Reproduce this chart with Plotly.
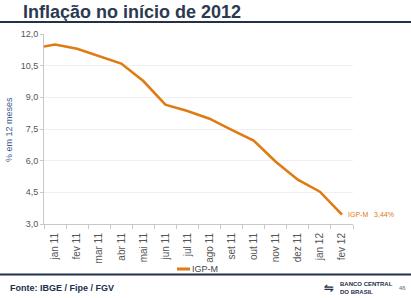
import plotly.graph_objects as go

W, H = 411, 298
ML, MR, MT, MB = 44, 58, 34, 74

months = ["dez 10", "jan 11", "fev 11", "mar 11", "abr 11", "mai 11", "jun 11", "jul 11",
          "ago 11", "set 11", "out 11", "nov 11", "dez 11", "jan 12", "fev 12"]
igpm = [11.32, 11.50, 11.30, 10.95, 10.60, 9.77, 8.65, 8.35, 7.99, 7.46, 6.95, 5.95, 5.10, 4.53, 3.44]
yticks = [3.0, 4.5, 6.0, 7.5, 9.0, 10.5, 12.0]

ORANGE = "#E07A12"
NAVY = "#22304a"
FONT = "Liberation Sans"

pw = W - ML - MR
ph = H - MT - MB


def px(x):
    return (x - ML) / pw


def py(y):
    return (H - MB - y) / ph


fig = go.Figure()
fig.add_trace(go.Scatter(
    x=months, y=igpm, mode="lines",
    line=dict(color=ORANGE, width=2.6),
    showlegend=False, cliponaxis=True,
))

fig.add_annotation(
    x=months[-1], y=igpm[-1], xref="x", yref="y",
    text="IGP-M   3,44%", showarrow=False, xanchor="left", yanchor="middle",
    xshift=4, font=dict(family=FONT, size=7, color=ORANGE),
)

# title
fig.add_annotation(
    x=px(21), y=py(12), xref="paper", yref="paper", text="<b>Inflação no início de 2012</b>",
    showarrow=False, xanchor="left", yanchor="middle",
    font=dict(family=FONT, size=18, color="#2b3a50"),
)
# y axis title
fig.add_annotation(
    x=px(9), y=py(130), xref="paper", yref="paper", text="% em 12 meses",
    showarrow=False, textangle=-90, xanchor="center", yanchor="middle",
    font=dict(family=FONT, size=9, color="#3d5b8c"),
)
# legend (manual)
fig.add_shape(type="line", xref="paper", yref="paper",
              x0=px(177), x1=px(190), y0=py(269), y1=py(269),
              line=dict(color=ORANGE, width=3))
fig.add_annotation(
    x=px(190), y=py(269), xref="paper", yref="paper", text="IGP-M",
    showarrow=False, xanchor="left", yanchor="middle",
    font=dict(family=FONT, size=9, color="#444444"),
)
# rules
fig.add_shape(type="line", xref="paper", yref="paper",
              x0=px(0), x1=px(W), y0=py(22), y1=py(22),
              line=dict(color=NAVY, width=2))
fig.add_shape(type="line", xref="paper", yref="paper",
              x0=px(0), x1=px(W), y0=py(274.5), y1=py(274.5),
              line=dict(color=NAVY, width=2))
# footer
fig.add_annotation(
    x=px(8), y=py(288), xref="paper", yref="paper", text="<b>Fonte: IBGE / Fipe / FGV</b>",
    showarrow=False, xanchor="left", yanchor="middle",
    font=dict(family=FONT, size=9, color=NAVY),
)
fig.add_annotation(
    x=px(338), y=py(287.5), xref="paper", yref="paper",
    text="<b>BANCO CENTRAL<br>DO BRASIL</b>",
    showarrow=False, xanchor="left", yanchor="middle", align="left",
    font=dict(family=FONT, size=6, color=NAVY),
)
fig.add_annotation(
    x=px(322), y=py(287.5), xref="paper", yref="paper",
    text="<b>⇋</b>",
    showarrow=False, xanchor="left", yanchor="middle",
    font=dict(family="DejaVu Sans", size=12, color=NAVY),
)
fig.add_annotation(
    x=px(402), y=py(288), xref="paper", yref="paper", text="46",
    showarrow=False, xanchor="center", yanchor="middle",
    font=dict(family=FONT, size=6, color="#666666"),
)

fig.update_layout(
    width=W, height=H,
    margin=dict(l=ML, r=MR, t=MT, b=MB),
    paper_bgcolor="white", plot_bgcolor="white",
    separators=",.",
    font=dict(family=FONT, size=9, color="#555555"),
    xaxis=dict(
        type="category", categoryorder="array", categoryarray=months,
        range=[0.5, len(months) - 0.5],
        tickmode="array", tickvals=months[1:], ticktext=months[1:],
        tickangle=-90, tickfont=dict(size=10, color="#555555"),
        ticklabelstandoff=4,
        showline=True, linecolor="#c8c8c8", linewidth=1,
        ticks="outside", tickson="boundaries", ticklen=4, tickcolor="#c8c8c8",
        showgrid=False, zeroline=False,
    ),
    yaxis=dict(
        range=[3, 12], tickvals=yticks, tickformat=".1f",
        tickfont=dict(size=9, color="#555555"),
        showline=True, linecolor="#c8c8c8", linewidth=1,
        ticks="outside", ticklen=3, tickcolor="#c8c8c8",
        showgrid=True, gridcolor="#f0f0f0", gridwidth=1, zeroline=False,
    ),
)

fig.write_html("out.html")
